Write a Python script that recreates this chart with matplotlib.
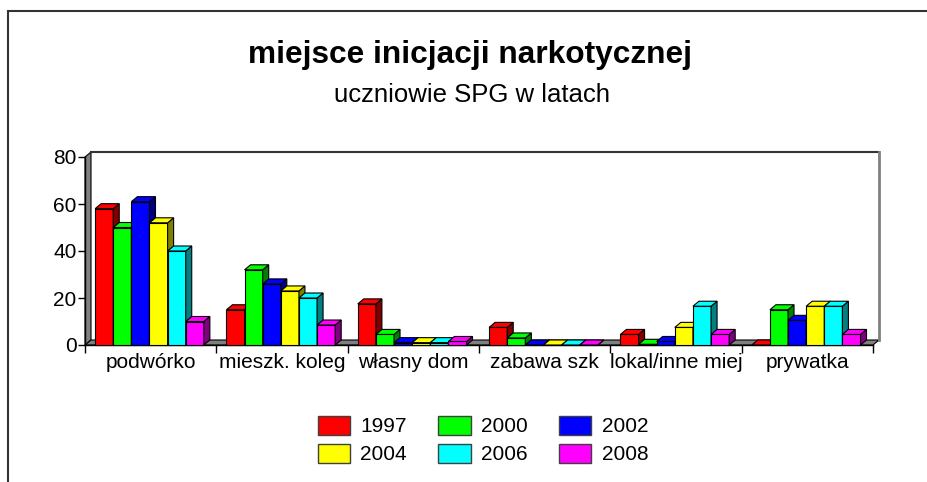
import matplotlib
matplotlib.use("Agg")
import matplotlib.pyplot as plt
from matplotlib.patches import Polygon, Rectangle, Patch
import numpy as np

plt.rcParams['font.family'] = ['Liberation Sans', 'DejaVu Sans']

categories = ["podwórko", "mieszk. koleg", "własny dom", "zabawa szk", "lokal/inne miej", "prywatka"]
years = ["1997", "2000", "2002", "2004", "2006", "2008"]
v1997 = [58, 15, 17.5, 7.5, 4.5, 0]
v2000 = [50, 32, 4.5, 3, 0.3, 15]
v2002 = [61, 26, 1, 0, 1.5, 10.5]
v2004 = [52, 23, 1, 0, 7.5, 16.5]
v2006 = [40, 20, 1, 0, 16.5, 16.5]
v2008 = [10, 8.5, 1.5, 0, 4.5, 4.5]
series = [v1997, v2000, v2002, v2004, v2006, v2008]

front = ["#FF0000", "#00FF00", "#0000FF", "#FFFF00", "#00FFFF", "#FF00FF"]
side = ["#800000", "#008000", "#000080", "#808000", "#008080", "#800080"]

W, H = 927, 482
fig = plt.figure(figsize=(W / 100, H / 100), dpi=100)
ax = fig.add_axes([85 / W, 137 / H, 788 / W, 188 / H])
ax.set_xlim(-0.5, 5.5)
ax.set_ylim(0, 80)
for s in ax.spines.values():
    s.set_visible(False)

# depth offsets in data units (about 6 px right, 5 px up)
dx = 6 / (788 / 6)
dy = 5 / (188 / 80)

# walls
ax.add_patch(Polygon([(-0.5, 0), (-0.5, 80), (-0.5 + dx, 80 + dy), (-0.5 + dx, dy)],
                     closed=True, facecolor="#808080", edgecolor="black", lw=0.8, clip_on=False, zorder=1))
ax.add_patch(Polygon([(-0.5, 0), (5.5, 0), (5.5 + dx, dy), (-0.5 + dx, dy)],
                     closed=True, facecolor="#808080", edgecolor="black", lw=0.8, clip_on=False, zorder=1))
ax.plot([-0.5 + dx, 5.5 + dx], [80 + dy, 80 + dy], color="#333333", lw=1.5, clip_on=False, zorder=1)
ax.plot([5.5 + dx, 5.5 + dx], [80 + dy, dy], color="#808080", lw=2, clip_on=False, zorder=1)

bw = 0.138
start = -0.5 + 0.077
z = 3
for c in range(len(categories)):
    for k, vals in enumerate(series):
        x0 = c + start + k * bw
        x1 = x0 + bw
        h = vals[c]
        ax.add_patch(Rectangle((x0, 0), bw, h, facecolor=front[k], edgecolor="black", lw=0.8,
                               clip_on=False, zorder=z))
        ax.add_patch(Polygon([(x1, 0), (x1 + dx, dy), (x1 + dx, h + dy), (x1, h)], closed=True,
                             facecolor=side[k], edgecolor="black", lw=0.8, clip_on=False, zorder=z))
        ax.add_patch(Polygon([(x0, h), (x1, h), (x1 + dx, h + dy), (x0 + dx, h + dy)], closed=True,
                             facecolor=front[k], edgecolor="black", lw=0.8, clip_on=False, zorder=z))
        z += 1

# axes lines
ax.plot([-0.5, -0.5], [0, 80], color="black", lw=1, clip_on=False, zorder=2)
ax.plot([-0.5, 5.5], [0, 0], color="black", lw=1, clip_on=False, zorder=2)

ax.set_yticks([0, 20, 40, 60, 80])
ax.tick_params(axis="y", length=5, width=1, pad=1, labelsize=15)
ax.set_xticks(np.arange(-0.5, 6.0, 1.0))
ax.set_xticklabels([])
ax.tick_params(axis="x", which="major", length=6, width=1, direction="out")
ax.set_xticks(np.arange(len(categories)), minor=True)
ax.set_xticklabels(categories, minor=True)
ax.tick_params(axis="x", which="minor", length=0, pad=6, labelsize=15)

fig.text(470 / W, 1 - 55 / H, "miejsce inicjacji narkotycznej", ha="center", va="center",
         fontsize=22.8, fontweight="bold")
fig.text(472 / W, 1 - 95 / H, "uczniowie SPG w latach", ha="center", va="center", fontsize=18.5)

handles = [Patch(facecolor=front[k], edgecolor="#404040", label=years[k]) for k in range(6)]
order = [0, 3, 1, 4, 2, 5]
fig.legend([handles[i] for i in order], [years[i] for i in order], ncol=3,
           loc="center", bbox_to_anchor=(483 / W, 1 - 440 / H), frameon=False, fontsize=15,
           handlelength=1.55, handleheight=1.05, handletextpad=0.5, columnspacing=1.5,
           labelspacing=0.35)

fig.add_artist(Rectangle((8 / W, -0.1), 2, 1 - 11 / H + 0.1, transform=fig.transFigure,
                         fill=False, edgecolor="#333333", lw=1.5))

fig.savefig("out.png", dpi=100)
